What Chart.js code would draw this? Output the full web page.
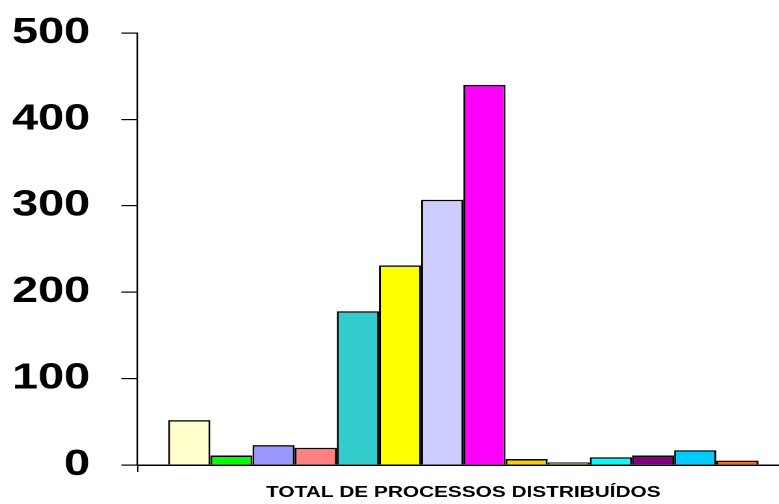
<!DOCTYPE html>
<html>
<head>
<meta charset="utf-8">
<script src="https://cdn.jsdelivr.net/npm/chart.js@4.4.1/dist/chart.umd.min.js"></script>
<style>
  html, body { margin: 0; padding: 0; background: #fff; overflow: hidden; }
  #wrap { width: 607px; height: 504px; transform: scaleX(1.3); transform-origin: 0 0; }
</style>
</head>
<body>
<div id="wrap"><canvas id="chart" width="607" height="504"></canvas></div>
<script>
// one category, fourteen series (one bar each)
const categories = ['TOTAL DE PROCESSOS DISTRIBUÍDOS'];
const seriesValues = [52, 11, 23, 20, 178, 231, 307, 440, 7, 3, 9, 11, 17, 5];
const seriesColors = ['#FFFFCC', '#00FF00', '#9999FF', '#FF8080', '#33CCCC', '#FFFF00', '#CCCCFF',
                      '#FF00FF', '#FFCC00', '#99CC00', '#00FFFF', '#800080', '#00CCFF', '#FF6600'];
const yTicks = [0, 100, 200, 300, 400, 500];

const datasets = seriesValues.map((v, i) => ({
    label: 'S' + (i + 1),
    data: [v],
    backgroundColor: seriesColors[i],
    borderColor: '#000',
    borderWidth: 1.5,
    barPercentage: 1,
    categoryPercentage: 0.906,
}));

const ctx = document.getElementById('chart').getContext('2d');
new Chart(ctx, {
    type: 'bar',
    data: { labels: categories, datasets },
    options: {
        responsive: false,
        animation: false,
        devicePixelRatio: 2,
        layout: { padding: { top: 33, bottom: 1.8, left: 0, right: 0 } },
        plugins: {
            legend: { display: false },
            tooltip: { enabled: false },
            title: { display: false },
        },
        scales: {
            x: {
                afterFit(scale) { scale.height = 37.2; scale.paddingLeft = 0; scale.paddingRight = 0; },
                grid: { display: true, drawOnChartArea: false, drawTicks: true, tickLength: 7, color: '#000', lineWidth: 1 },
                border: { display: true, color: '#000', width: 1.5 },
                ticks: { color: '#000', padding: 11, font: { family: 'Liberation Sans, Arial', size: 16, weight: 'bold' } },
            },
            y: {
                min: yTicks[0],
                max: yTicks[yTicks.length - 1],
                afterFit(scale) { scale.width = 105.8; scale.paddingTop = 0; scale.paddingBottom = 0; },
                afterBuildTicks(scale) { scale.ticks = yTicks.map(v => ({ value: v })); },
                grid: { display: true, drawOnChartArea: false, drawTicks: true, tickLength: 12.5, color: '#000', lineWidth: 1.2 },
                border: { display: true, color: '#000', width: 1.2 },
                ticks: { color: '#000', padding: 24, font: { family: 'Liberation Sans, Arial', size: 36, weight: 'bold' } },
            }
        }
    }
});
</script>
</body>
</html>
